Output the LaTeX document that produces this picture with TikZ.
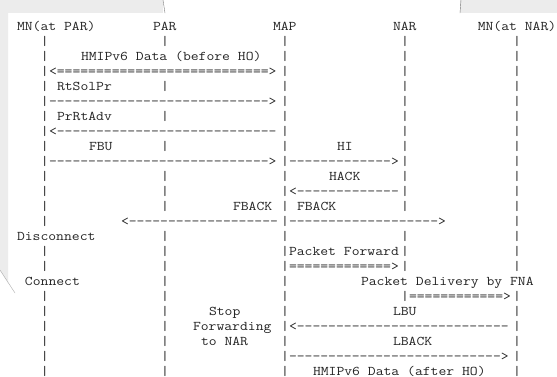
\documentclass[tikz,border=0pt]{standalone}
\usepackage{graphicx}
\definecolor{framegray}{RGB}{236,236,236}
\definecolor{edgegray}{RGB}{120,120,120}
\definecolor{inkgray}{RGB}{35,35,35}

% one character cell is 8 units wide, one text line 15 units high
\newcommand\sx{1.1457}
\newcommand\asc[1]{\scalebox{\sx}[1]{#1}}
\newcommand\rep[2]{\foreach\k in {1,...,#1}{#2\kern0pt}}
\newcommand\msg[4]{\node[ascii] (#1) at ({17+8*#2},{30.5+15*#3}) {\asc{#4}};}

\begin{document}
\begin{tikzpicture}[x=1pt, y=-1pt,
    ascii/.style={anchor=base west, inner sep=0pt, outer sep=0pt, text=inkgray,
                  font=\fontsize{13.3}{15}\selectfont\ttfamily}
]
\useasboundingbox (0,0) rectangle (557,376);
\fill[white] (0,0) rectangle (557,376);
% screenshot frame
\fill[framegray] (0,0) rectangle (163,13);
\fill[framegray] (460,0) rectangle (557,13);
\fill[framegray] (0,13) -- (8,13) -- (8,283) -- (0,270) -- cycle;
\draw[edgegray] (163,0) .. controls (164,7) .. (165,13);
\draw[edgegray] (461,0) .. controls (460.5,7) .. (460,13);
\draw[edgegray!60] (0,270) -- (15,293);

% entities
\msg{mnpar}{0}{0}{MN(at PAR)}
\msg{par}{17}{0}{PAR}
\msg{map}{32}{0}{MAP}
\msg{nar}{47}{0}{NAR}
\msg{mnnar}{57.6}{0}{MN(at NAR)}

% lifelines
\foreach \r in {1,...,13,15,16,18,19,20,21,22,23} {\msg{llA\r}{3}{\r}{|}}
\foreach \r in {1,4,6,8,10,11,12,14,15,16,17,18,19,20,21,22,23} {\msg{llB\r}{18}{\r}{|}}
\foreach \r in {1,...,23} {\msg{llC\r}{33}{\r}{|}}
\foreach \r in {1,...,12,14,15,16,18} {\msg{llD\r}{48}{\r}{|}}
\foreach \r in {1,...,16,18,19,20,21,22,23} {\msg{llE\r}{62}{\r}{|}}

% messages
\msg{datapre}{8}{2}{HMIPv6 Data (before HO)}
\msg{datapreA}{4}{3}{<\rep{27}{=}>}
\msg{rtsol}{5}{4}{RtSolPr}
\msg{rtsolA}{4}{5}{\rep{28}{-}>}
\msg{prrt}{5}{6}{PrRtAdv}
\msg{prrtA}{4}{7}{<\rep{28}{-}}
\msg{fbu}{9}{8}{FBU}
\msg{hi}{40}{8}{HI}
\msg{fbuA}{4}{9}{\rep{28}{-}>}
\msg{hiA}{34}{9}{\rep{13}{-}>}
\msg{hack}{39}{10}{HACK}
\msg{hackA}{34}{11}{<\rep{13}{-}}
\msg{fbackL}{27}{12}{FBACK}
\msg{fbackR}{35}{12}{FBACK}
\msg{fbackLA}{13}{13}{<\rep{19}{-}}
\msg{fbackRA}{34}{13}{\rep{19}{-}>}
\msg{disc}{0}{14}{Disconnect}
\msg{fwd}{34}{15}{Packet Forward}
\msg{fwdA}{34}{16}{\rep{13}{=}>}
\msg{conn}{1}{17}{Connect}
\msg{fna}{43}{17}{Packet Delivery by FNA}
\msg{fnaA}{49}{18}{\rep{12}{=}>}
\msg{stopA}{24}{19}{Stop}
\msg{lbu}{47}{19}{LBU}
\msg{stopB}{22}{20}{Forwarding}
\msg{lbuA}{34}{20}{<\rep{27}{-}}
\msg{stopC}{23}{21}{to NAR}
\msg{lback}{47}{21}{LBACK}
\msg{lbackA}{34}{22}{\rep{27}{-}>}
\msg{datapost}{37}{23}{HMIPv6 Data (after HO)}
\end{tikzpicture}
\end{document}
